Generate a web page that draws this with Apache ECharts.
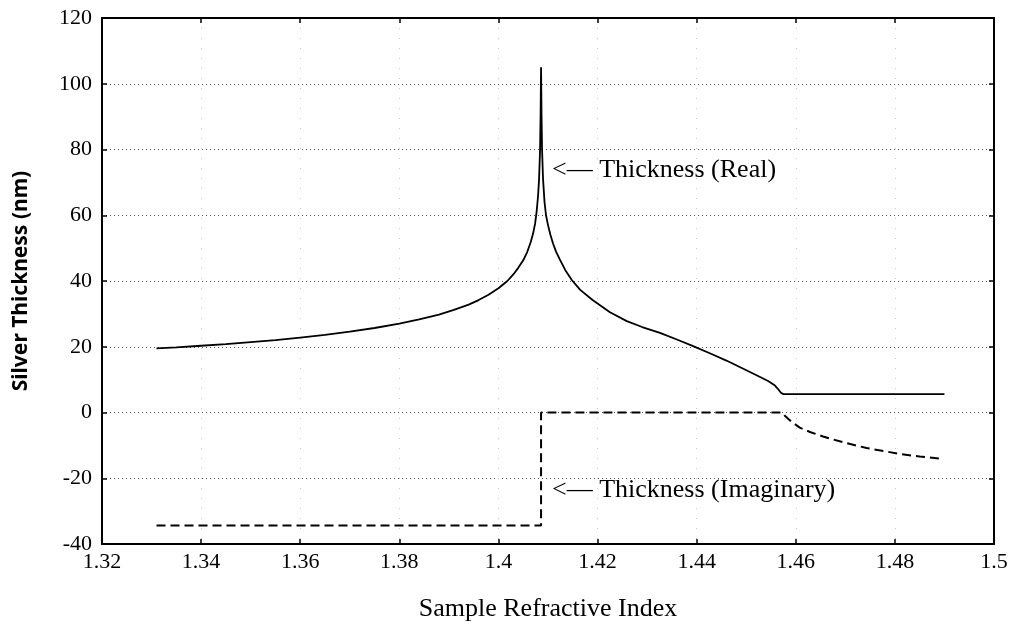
<!DOCTYPE html>
<html>
<head>
<meta charset="utf-8">
<style>html,body{margin:0;padding:0;background:#fff}#c{width:1016px;height:627px}</style>
<script src="https://cdn.jsdelivr.net/npm/echarts@6/dist/echarts.min.js"></script>
</head>
<body>
<div id="c"></div>
<script>
// Real thickness curve
const realX = [1.331, 1.335, 1.340, 1.345, 1.350, 1.355, 1.360, 1.365, 1.370, 1.375, 1.380, 1.384, 1.388, 1.391, 1.394, 1.396, 1.398, 1.400, 1.4018, 1.403, 1.404, 1.405, 1.4058, 1.4065, 1.4070, 1.4074, 1.4077, 1.4080, 1.4082, 1.4084, 1.4085, 1.4086,
  1.4087, 1.4088, 1.4090, 1.4093, 1.4096, 1.4100, 1.4105, 1.4110, 1.4116, 1.4124, 1.4135, 1.4148, 1.4165, 1.419, 1.4225, 1.4259, 1.429, 1.4326, 1.436, 1.4393, 1.443, 1.446, 1.449, 1.4528, 1.4545, 1.4558, 1.4565, 1.4570, 1.4575, 1.49];
const realY = [19.5, 19.8, 20.3, 20.8, 21.4, 22.0, 22.8, 23.6, 24.6, 25.7, 27.0, 28.3, 29.8, 31.2, 32.8, 34.2, 35.8, 37.8, 40.0, 42.0, 44.0, 46.3, 48.8, 51.8, 54.5, 57.5, 61, 66, 71, 80, 90, 105,
  90, 80, 71, 64, 60, 57, 54, 51.5, 49.0, 46.5, 43.3, 40.3, 37.3, 34.2, 30.5, 27.8, 26.0, 24.2, 22.2, 20.2, 17.8, 15.8, 13.6, 10.8, 9.5, 8.2, 7.0, 6.0, 5.6, 5.6];
// Imaginary thickness curve
const imagX = [1.331, 1.4086, 1.4086, 1.4572, 1.4578, 1.4585, 1.4595, 1.4608, 1.463, 1.4655, 1.4675, 1.471, 1.4743, 1.478, 1.481, 1.485, 1.4897];
const imagY = [-34.4, -34.4, 0, 0, -1.0, -2.0, -3.2, -4.6, -6.0, -7.3, -8.2, -9.6, -10.8, -11.8, -12.6, -13.4, -14.1];

const xTicks = {min: 1.32, max: 1.5, step: 0.02};
const yTicks = {min: -40, max: 120, step: 20};
const labels = {
  x: 'Sample Refractive Index',
  y: 'Silver Thickness (nm)',
  real: '<— Thickness (Real)',
  imag: '<— Thickness (Imaginary)'
};

const zip = (a, b) => a.map((v, i) => [v, b[i]]);
const serif = 'Liberation Serif';
const fmtX = v => parseFloat(v.toFixed(2)).toString();

const axisLineStyle = {onZero: false, lineStyle: {color: '#000', width: 2}};
const tick = {show: true, inside: true, length: 5, lineStyle: {color: '#000', width: 1.5}};

const chart = echarts.init(document.getElementById('c'), null, {renderer: 'canvas'});
chart.setOption({
  backgroundColor: '#fff',
  animation: false,
  grid: {left: 102, right: 22, top: 18, bottom: 83},
  xAxis: [{
    type: 'value', min: xTicks.min, max: xTicks.max, interval: xTicks.step,
    position: 'bottom',
    axisLine: axisLineStyle, axisTick: tick,
    axisLabel: {formatter: fmtX, color: '#000', fontFamily: serif, fontSize: 22, margin: 7, showMinLabel: true, showMaxLabel: true},
    splitLine: {show: true, lineStyle: {color: '#c8c8c8', type: [1, 9], width: 1}},
    name: labels.x, nameLocation: 'middle', nameGap: 52,
    nameTextStyle: {color: '#000', fontFamily: serif, fontSize: 26}
  }, {
    type: 'value', min: xTicks.min, max: xTicks.max, interval: xTicks.step,
    position: 'top',
    axisLine: axisLineStyle, axisTick: tick,
    axisLabel: {show: false}, splitLine: {show: false}
  }],
  yAxis: [{
    type: 'value', min: yTicks.min, max: yTicks.max, interval: yTicks.step,
    position: 'left',
    axisLine: axisLineStyle, axisTick: tick,
    axisLabel: {color: '#000', fontFamily: serif, fontSize: 22, margin: 10},
    splitLine: {show: true, lineStyle: {color: '#555', type: [1, 3], width: 1}},
    name: labels.y, nameLocation: 'middle', nameGap: 70,
    nameTextStyle: {color: '#000', fontFamily: 'Noto Sans', fontWeight: 'bold', fontSize: 21}
  }, {
    type: 'value', min: yTicks.min, max: yTicks.max, interval: yTicks.step,
    position: 'right',
    axisLine: axisLineStyle, axisTick: tick,
    axisLabel: {show: false}, splitLine: {show: false}
  }],
  series: [{
    type: 'line', name: 'Thickness (Real)', data: zip(realX, realY),
    showSymbol: false, symbol: 'none',
    lineStyle: {color: '#000', width: 1.8}
  }, {
    type: 'line', name: 'Thickness (Imaginary)', data: zip(imagX, imagY),
    showSymbol: false, symbol: 'none',
    lineStyle: {color: '#000', width: 2, type: [9, 5]}
  }],
  graphic: [{
    type: 'text', left: 552, top: 157,
    style: {text: labels.real, fill: '#000', font: '26px "Liberation Serif"'}
  }, {
    type: 'text', left: 552, top: 477,
    style: {text: labels.imag, fill: '#000', font: '26px "Liberation Serif"'}
  }]
});
</script>
</body>
</html>
